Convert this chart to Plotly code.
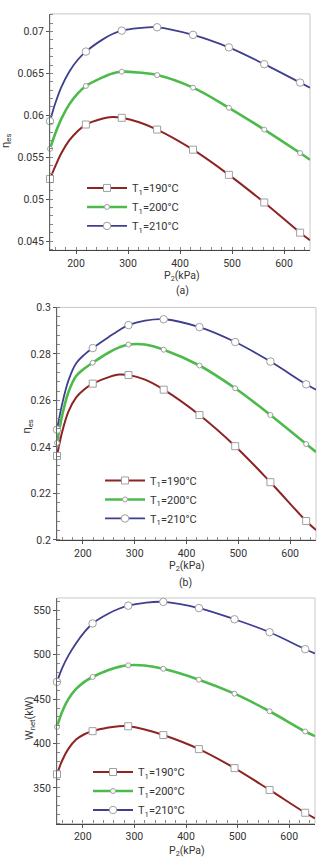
import plotly.graph_objects as go

# ---------------- data ----------------
p2_curve = [150, 160, 172, 187, 203, 219, 250, 270, 288, 320, 356, 425, 494, 562, 631, 650]
p2_markers = [150, 219, 288, 356, 425, 494, 562, 631]

series_names = ["T<sub>1</sub>=190°C", "T<sub>1</sub>=200°C", "T<sub>1</sub>=210°C"]

# (a) eta_es
eta_a_190 = [0.0524, 0.0539, 0.0555, 0.0570, 0.0581, 0.0589, 0.0596, 0.0598, 0.0597, 0.0592,
             0.0583, 0.0559, 0.0529, 0.0496, 0.0460, 0.0451]
eta_a_200 = [0.0560, 0.0578, 0.0596, 0.0613, 0.0626, 0.0635, 0.0645, 0.0650, 0.0652, 0.0651,
             0.0648, 0.0633, 0.0609, 0.0583, 0.0555, 0.0547]
eta_a_210 = [0.0593, 0.0614, 0.0634, 0.0652, 0.0666, 0.0676, 0.0690, 0.0697, 0.0701, 0.0704,
             0.0705, 0.0696, 0.0681, 0.0661, 0.0639, 0.0633]

# (b) eta_es
eta_b_190 = [0.2361, 0.2465, 0.2552, 0.2613, 0.2648, 0.2672, 0.2700, 0.2711, 0.2709, 0.2689,
             0.2646, 0.2537, 0.2403, 0.2248, 0.2081, 0.2042]
eta_b_200 = [0.2417, 0.2535, 0.2635, 0.2705, 0.2737, 0.2762, 0.2806, 0.2828, 0.2840, 0.2840,
             0.2818, 0.2750, 0.2652, 0.2537, 0.2412, 0.2378]
eta_b_210 = [0.2474, 0.2585, 0.2685, 0.2760, 0.2797, 0.2825, 0.2873, 0.2902, 0.2924, 0.2943,
             0.2949, 0.2915, 0.2851, 0.2767, 0.2669, 0.2646]

# (c) W_net (kW)
w_190 = [365.4, 381.0, 394.0, 404.5, 410.5, 414.0, 418.0, 419.6, 419.5, 415.8,
         409.6, 393.8, 372.4, 347.8, 322.1, 315.8]
w_200 = [418.8, 436.0, 450.0, 461.5, 469.5, 475.0, 482.8, 486.4, 488.2, 487.9,
         484.2, 472.0, 456.2, 436.4, 413.6, 408.5]
w_210 = [469.5, 485.0, 499.0, 513.0, 525.5, 535.3, 546.5, 551.8, 555.3, 558.5,
         559.6, 552.6, 540.0, 525.4, 506.3, 501.5]

x_tickvals = [200, 300, 400, 500, 600]
x_ticktext = ["200", "300", "400", "500", "600"]
ya_tickvals = [0.045, 0.05, 0.055, 0.06, 0.065, 0.07]
ya_ticktext = ["0.045", "0.05", "0.055", "0.06", "0.065", "0.07"]
yb_tickvals = [0.2, 0.22, 0.24, 0.26, 0.28, 0.3]
yb_ticktext = ["0.2", "0.22", "0.24", "0.26", "0.28", "0.3"]
yc_tickvals = [350, 400, 450, 500, 550]
yc_ticktext = ["350", "400", "450", "500", "550"]

# ---------------- styling ----------------
W, H = 320, 864
FONT = "Roboto, Open Sans, sans-serif"
TXT = "#333333"
colors = ["#8E2323", "#4CBB4C", "#3E3F8F"]
widths = [2.0, 2.6, 1.8]
symbols = ["square", "circle", "circle"]
msizes = [7, 5, 7.5]

def px_x(p):
    return p / W

def px_y(p):
    return 1 - p / H

panels = [
    dict(ax="", series=[eta_a_190, eta_a_200, eta_a_210], legend="legend",
         xdom=[50, 310], ydom=[8, 248], yrange=[0.0439, 0.0721],
         ytv=ya_tickvals, ytt=ya_ticktext, yminor=0.001),
    dict(ax="2", series=[eta_b_190, eta_b_200, eta_b_210], legend="legend2",
         xdom=[57, 316], ydom=[306, 542], yrange=[0.2, 0.3],
         ytv=yb_tickvals, ytt=yb_ticktext, yminor=0.004),
    dict(ax="3", series=[w_190, w_200, w_210], legend="legend3",
         xdom=[57, 315], ydom=[601, 830], yrange=[310, 564],
         ytv=yc_tickvals, ytt=yc_ticktext, yminor=10),
]

fig = go.Figure()
marker_idx = [p2_curve.index(p) for p in p2_markers]

for pan in panels:
    xa = "x" + pan["ax"]
    ya = "y" + pan["ax"]
    for k, vals in enumerate(pan["series"]):
        fig.add_trace(go.Scatter(
            x=p2_curve, y=vals, mode="lines", xaxis=xa, yaxis=ya,
            line=dict(color=colors[k], width=widths[k], shape="spline", smoothing=1.0),
            showlegend=False, hoverinfo="skip"))
        fig.add_trace(go.Scatter(
            x=p2_markers, y=[vals[i] for i in marker_idx], mode="markers",
            xaxis=xa, yaxis=ya, cliponaxis=False,
            marker=dict(symbol=symbols[k], size=msizes[k], color="white",
                        line=dict(color="#A0A0A0", width=1)),
            showlegend=False))
        # legend entry
        fig.add_trace(go.Scatter(
            x=[None], y=[None], mode="lines+markers", xaxis=xa, yaxis=ya,
            name=series_names[k], legend=pan["legend"],
            line=dict(color=colors[k], width=widths[k]),
            marker=dict(symbol=symbols[k], size=msizes[k], color="white",
                        line=dict(color="#A0A0A0", width=1))))

layout = dict(
    width=W, height=H, margin=dict(l=0, r=0, t=0, b=0),
    paper_bgcolor="white", plot_bgcolor="white",
    font=dict(family=FONT, size=10, color=TXT),
    showlegend=True,
)

for pan in panels:
    sfx = pan["ax"]
    xkey = "xaxis" + sfx
    ykey = "yaxis" + sfx
    layout[xkey] = dict(
        domain=[px_x(pan["xdom"][0]), px_x(pan["xdom"][1])],
        anchor="y" + sfx, range=[150, 650],
        tickvals=x_tickvals, ticktext=x_ticktext,
        ticks="outside", ticklen=3, tickcolor="#555", tickwidth=1,
        minor=dict(dtick=20, tick0=0, ticks="inside", ticklen=3, tickcolor="#888"),
        showline=True, linecolor="#444", linewidth=1.2, mirror=False,
        showgrid=False, zeroline=False,
        tickfont=dict(size=10.5, color=TXT, family=FONT),
    )
    layout[ykey] = dict(
        domain=[px_y(pan["ydom"][1]), px_y(pan["ydom"][0])],
        anchor="x" + sfx, range=pan["yrange"],
        tickvals=pan["ytv"], ticktext=pan["ytt"],
        ticks="outside", ticklen=3, tickcolor="#555", tickwidth=1,
        minor=dict(dtick=pan["yminor"], tick0=0, ticks="inside", ticklen=3, tickcolor="#888"),
        showline=True, linecolor="#666", linewidth=1, mirror=False,
        showgrid=False, zeroline=False,
        tickfont=dict(size=10.5, color=TXT, family=FONT),
    )

fig.update_layout(**layout)

# light frame (top/right border)
for pan in panels:
    sfx = pan["ax"]
    fig.add_shape(type="rect", xref=("x" + sfx + " domain"), yref=("y" + sfx + " domain"),
                  x0=0, x1=1, y0=0, y1=1, line=dict(color="#C8C8C8", width=1), layer="below")

# legends
leg_common = dict(bgcolor="rgba(0,0,0,0)", borderwidth=0, itemwidth=40,
                  font=dict(size=11, color=TXT, family=FONT),
                  xanchor="left", yanchor="middle", tracegroupgap=0)
fig.update_layout(
    legend=dict(x=px_x(82), y=px_y(204), **leg_common),
    legend2=dict(x=px_x(100), y=px_y(501), **leg_common),
    legend3=dict(x=px_x(88), y=px_y(797), **leg_common),
)

# axis titles and captions
ann = []
ann.append(dict(text="P<sub>2</sub>(kPa)", x=px_x(182), y=px_y(274)))
ann.append(dict(text="(a)", x=px_x(182), y=px_y(289)))
ann.append(dict(text="P<sub>2</sub>(kPa)", x=px_x(187), y=px_y(569)))
ann.append(dict(text="(b)", x=px_x(185), y=px_y(585)))
ann.append(dict(text="P<sub>2</sub>(kPa)", x=px_x(187), y=px_y(857.5)))
for a in ann:
    fig.add_annotation(xref="paper", yref="paper", showarrow=False,
                       xanchor="center", yanchor="middle",
                       font=dict(size=10.5, color=TXT, family=FONT), **a)

ytitles = [
    dict(text="η<sub>es</sub>", x=px_x(6), y=px_y(137)),
    dict(text="η<sub>es</sub>", x=px_x(27), y=px_y(427)),
    dict(text="W<sub>net</sub>(kW)", x=px_x(30), y=px_y(723)),
]
for a in ytitles:
    fig.add_annotation(xref="paper", yref="paper", showarrow=False, textangle=-90,
                       xanchor="center", yanchor="middle",
                       font=dict(size=11, color=TXT, family=FONT), **a)

fig.write_html("out.html", config={"displayModeBar": False},
               post_script="document.body.style.margin='0';")
